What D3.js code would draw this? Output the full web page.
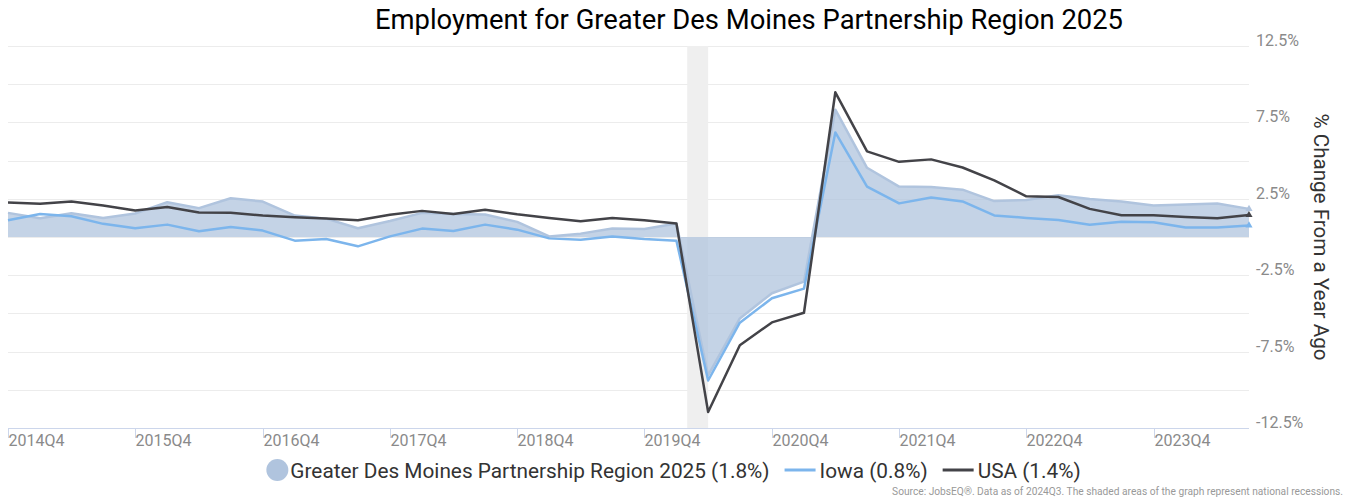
<!DOCTYPE html>
<html lang="en">
<head>
  <meta charset="utf-8">
  <title>Employment</title>
  <script src="https://d3js.org/d3.v7.min.js"></script>
  <style>
  body {
    margin: 0;
    font-family: Roboto, "Open Sans", sans-serif;
  }
  .grid line {
    stroke: #ececec;
    stroke-width: 1;
  }
  .x-label, .y-label {
    fill: #8a8a8a;
    font-size: 16px;
  }
  .legend text {
    fill: #333;
    font-size: 20.8px;
  }
  </style>
</head>
<body>
<script>

// Data (year over year % change)
var quarters = ["2014Q4",
  "2015Q1", "2015Q2", "2015Q3", "2015Q4",
  "2016Q1", "2016Q2", "2016Q3", "2016Q4",
  "2017Q1", "2017Q2", "2017Q3", "2017Q4",
  "2018Q1", "2018Q2", "2018Q3", "2018Q4",
  "2019Q1", "2019Q2", "2019Q3", "2019Q4",
  "2020Q1", "2020Q2", "2020Q3", "2020Q4",
  "2021Q1", "2021Q2", "2021Q3", "2021Q4",
  "2022Q1", "2022Q2", "2022Q3", "2022Q4",
  "2023Q1", "2023Q2", "2023Q3", "2023Q4",
  "2024Q1", "2024Q2", "2024Q3"];

var regionValues = [1.58,
  1.23, 1.56, 1.25, 1.54,
  2.28, 1.89, 2.54, 2.32,
  1.40, 1.20, 0.57, 1.05,
  1.58, 1.51, 1.47, 0.99,
  0.04, 0.22, 0.55, 0.53,
  0.88, -9.06, -5.33, -3.68,
  -2.92, 8.33, 4.53, 3.30,
  3.27, 3.10, 2.35, 2.42,
  2.74, 2.48, 2.32, 2.06,
  2.12, 2.19, 1.84];

var iowaValues = [1.10,
  1.51, 1.36, 0.86, 0.57,
  0.81, 0.37, 0.66, 0.42,
  -0.24, -0.13, -0.61, 0.04,
  0.55, 0.39, 0.81, 0.48,
  -0.09, -0.18, 0.04, -0.13,
  -0.24, -9.39, -5.61, -4.01,
  -3.38, 6.84, 3.30, 2.20,
  2.59, 2.33, 1.41, 1.25,
  1.11, 0.80, 1.00, 0.97,
  0.62, 0.62, 0.76];

var usaValues = [2.26,
  2.17, 2.32, 2.06, 1.73,
  1.97, 1.60, 1.58, 1.40,
  1.29, 1.21, 1.10, 1.45,
  1.71, 1.51, 1.78, 1.49,
  1.25, 1.03, 1.25, 1.10,
  0.88, -11.45, -7.08, -5.59,
  -4.96, 9.47, 5.60, 4.92,
  5.08, 4.55, 3.71, 2.66,
  2.62, 1.84, 1.42, 1.42,
  1.31, 1.22, 1.44];

var tickQuarters = ["2014Q4", "2015Q4", "2016Q4", "2017Q4", "2018Q4",
  "2019Q4", "2020Q4", "2021Q4", "2022Q4", "2023Q4"];
var yTicks = [-12.5, -10, -7.5, -5, -2.5, 0, 2.5, 5, 7.5, 10, 12.5];
var yLabels = [12.5, 7.5, 2.5, -2.5, -7.5, -12.5];
var recession = ["2020-02-01", "2020-04-01"];

var seriesNames = ["Greater Des Moines Partnership Region 2025 (1.8%)", "Iowa (0.8%)", "USA (1.4%)"];

// Display constants
var width = 1347;
var height = 500;
var plotLeft = 8, plotRight = 1249, plotTop = 46, plotBottom = 428;
var regionColor = "#b0c4de";
var iowaColor = "#7cb5ec";
var usaColor = "#434348";

function quarterDate(q) {
  var yr = parseInt(q.slice(0, 4));
  var qn = parseInt(q.slice(5));
  return new Date(Date.UTC(yr, (qn - 1) * 3, 1));
}

var dates = quarters.map(quarterDate);

var x = d3.scaleUtc()
  .domain([dates[0], dates[dates.length - 1]])
  .range([plotLeft, plotRight]);

var y = d3.scaleLinear()
  .domain([-12.5, 12.5])
  .range([plotBottom, plotTop]);

var svg = d3.select("body")
  .append("svg")
  .attr("width", width)
  .attr("height", height);

// Gridlines
svg.append("g")
  .attr("class", "grid")
  .selectAll("line")
  .data(yTicks.filter(function(d) { return d != -12.5; }))
  .enter().append("line")
  .attr("x1", plotLeft)
  .attr("x2", plotRight)
  .attr("y1", function(d) { return Math.round(y(d)) + 0.5; })
  .attr("y2", function(d) { return Math.round(y(d)) + 0.5; });

// Recession band
svg.append("rect")
  .attr("x", x(new Date(recession[0])))
  .attr("y", plotTop)
  .attr("width", x(new Date(recession[1])) - x(new Date(recession[0])))
  .attr("height", plotBottom - plotTop)
  .attr("fill", "#efefef");

// Region area
var area = d3.area()
  .x(function(d, i) { return x(dates[i]); })
  .y0(y(0))
  .y1(function(d) { return y(d); });

var line = d3.line()
  .x(function(d, i) { return x(dates[i]); })
  .y(function(d) { return y(d); });

svg.append("path")
  .attr("d", area(regionValues))
  .attr("fill", regionColor)
  .attr("fill-opacity", 0.75);

svg.append("path")
  .attr("d", line(regionValues))
  .attr("fill", "none")
  .attr("stroke", regionColor)
  .attr("stroke-width", 2.5)
  .attr("stroke-linejoin", "round");

svg.append("path")
  .attr("d", line(iowaValues))
  .attr("fill", "none")
  .attr("stroke", iowaColor)
  .attr("stroke-width", 2.5)
  .attr("stroke-linejoin", "round");

svg.append("path")
  .attr("d", line(usaValues))
  .attr("fill", "none")
  .attr("stroke", usaColor)
  .attr("stroke-width", 2.5)
  .attr("stroke-linejoin", "round");

// small end markers
var last = dates.length - 1;
[[regionValues, regionColor], [iowaValues, iowaColor], [usaValues, usaColor]].forEach(function(s) {
  svg.append("path")
    .attr("d", d3.symbol().type(d3.symbolTriangle).size(22)())
    .attr("transform", "translate(" + x(dates[last]) + "," + y(s[0][last]) + ")")
    .attr("fill", s[1]);
});

// X axis
svg.append("line")
  .attr("x1", plotLeft)
  .attr("x2", plotRight)
  .attr("y1", plotBottom + 0.5)
  .attr("y2", plotBottom + 0.5)
  .attr("stroke", "#ccd6eb");

var xTicks = svg.append("g").selectAll("g")
  .data(tickQuarters)
  .enter().append("g")
  .attr("transform", function(d) { return "translate(" + (Math.round(x(quarterDate(d))) + 0.5) + "," + plotBottom + ")"; });

xTicks.append("line")
  .attr("y1", 0)
  .attr("y2", 10)
  .attr("stroke", "#ccd6eb");

xTicks.append("text")
  .attr("class", "x-label")
  .attr("x", 0)
  .attr("y", 18)
  .text(function(d) { return d; });

// Y labels (right side)
svg.append("g").selectAll("text")
  .data(yLabels)
  .enter().append("text")
  .attr("class", "y-label")
  .attr("x", 1256)
  .attr("y", function(d) { return y(d); })
  .text(function(d) { return d + "%"; });

svg.append("text")
  .attr("transform", "translate(1314," + ((plotTop + plotBottom) / 2) + ") rotate(90)")
  .attr("text-anchor", "middle")
  .attr("fill", "#333")
  .style("font-size", "20.6px")
  .text("% Change From a Year Ago");

// Title
svg.append("text")
  .attr("x", 749)
  .attr("y", 29)
  .attr("text-anchor", "middle")
  .attr("fill", "#000")
  .style("font-size", "27.4px")
  .text("Employment for Greater Des Moines Partnership Region 2025");

// Legend, laid out left to right then centred
var legend = svg.append("g").attr("class", "legend");
var cursor = 0;
var items = [
  {name: seriesNames[0], color: regionColor, kind: "circle"},
  {name: seriesNames[1], color: iowaColor, kind: "line"},
  {name: seriesNames[2], color: usaColor, kind: "line"}
];
items.forEach(function(item, i) {
  var g = legend.append("g").attr("transform", "translate(" + cursor + ",0)");
  var symW;
  if (item.kind == "circle") {
    g.append("circle").attr("cx", 11).attr("cy", 0).attr("r", 11).attr("fill", item.color);
    symW = 24;
  } else {
    g.append("line").attr("x1", 0).attr("x2", 31).attr("y1", 0).attr("y2", 0)
      .attr("stroke", item.color).attr("stroke-width", 3);
    symW = 35;
  }
  var t = g.append("text").attr("x", symW).attr("y", 7.5).text(item.name);
  cursor += symW + t.node().getComputedTextLength() + 15;
});
cursor -= 15;
legend.attr("transform", "translate(" + (width / 2 - cursor / 2) + ",470)");

// Source note
svg.append("text")
  .attr("x", 1343)
  .attr("y", 495)
  .attr("text-anchor", "end")
  .attr("fill", "#999")
  .style("font-size", "10.2px")
  .text("Source: JobsEQ®. Data as of 2024Q3. The shaded areas of the graph represent national recessions.");

</script>
</body>
</html>
